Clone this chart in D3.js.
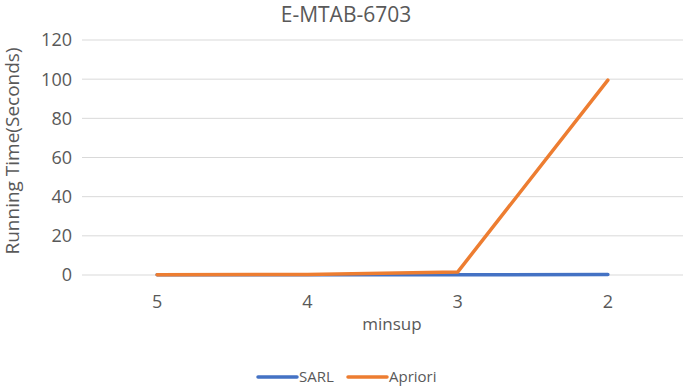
<!DOCTYPE html>
<html><head><meta charset="utf-8">
<script src="https://cdn.jsdelivr.net/npm/d3@7"></script>
<style>body{margin:0;background:#fff}svg{display:block}text{font-family:"Open Sans","Liberation Sans",sans-serif;fill:#595959}</style>
</head><body>
<svg id="c" width="685" height="386"></svg>
<script>
const categories = ["5", "4", "3", "2"];
const sarl = [0.1, 0.1, 0.1, 0.2];
const apriori = [0.1, 0.3, 1.5, 99.5];
const yTicks = [0, 20, 40, 60, 80, 100, 120];
const seriesNames = ["SARL", "Apriori"];
const colors = ["#4472C4", "#ED7D31"];

const svg = d3.select("#c");
const L = 82, R = 683, T = 40, B = 275;
const x = d3.scalePoint().domain(categories).range([L, R]).padding(0.5);
const y = d3.scaleLinear().domain([0, 120]).range([B, T]);

svg.append("text").attr("x", 346).attr("y", 22).attr("text-anchor", "middle")
  .style("font-size", "21px").text("E-MTAB-6703");

const gy = svg.append("g");
yTicks.forEach(t => {
  gy.append("line").attr("x1", L).attr("x2", R).attr("y1", y(t)).attr("y2", y(t))
    .attr("stroke", "#d9d9d9").attr("stroke-width", 1);
  gy.append("text").attr("x", 72).attr("y", y(t)).attr("dy", "0.36em").attr("text-anchor", "end")
    .style("font-size", "18px").text(t);
});
categories.forEach(c => {
  svg.append("text").attr("x", x(c)).attr("y", 308).attr("text-anchor", "middle")
    .style("font-size", "18px").text(c);
});
svg.append("text").attr("x", 392).attr("y", 330).attr("text-anchor", "middle")
  .style("font-size", "17px").text("minsup");
svg.append("text").attr("transform", "translate(19,151) rotate(-90)").attr("text-anchor", "middle")
  .style("font-size", "19px").text("Running Time(Seconds)");

const line = d3.line().x((d, i) => x(categories[i])).y(d => y(d));
[sarl, apriori].forEach((s, i) => {
  svg.append("path").attr("d", line(s)).attr("fill", "none").attr("stroke", colors[i])
    .attr("stroke-width", 3.5).attr("stroke-linejoin", "round").attr("stroke-linecap", "round");
});

const legX = [258, 348];
seriesNames.forEach((n, i) => {
  svg.append("line").attr("x1", legX[i]).attr("x2", legX[i] + 39).attr("y1", 377).attr("y2", 377)
    .attr("stroke", colors[i]).attr("stroke-width", 3.5).attr("stroke-linecap", "round");
  svg.append("text").attr("x", legX[i] + 41).attr("y", 377).attr("dy", "0.36em")
    .style("font-size", "15px").text(n);
});
</script>
</body></html>
